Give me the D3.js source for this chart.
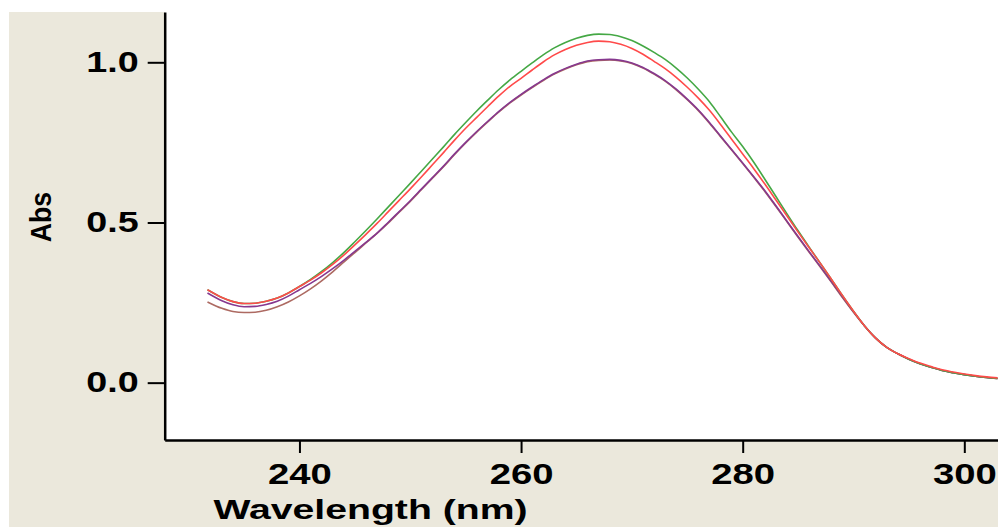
<!DOCTYPE html>
<html>
<head>
<meta charset="utf-8">
<script src="https://cdn.jsdelivr.net/npm/d3@7"></script>
<style>
  body { margin: 0; background: #fff; }
  svg { display: block; }
</style>
</head>
<body>
<div class="chart"></div>
<script>
var w = 998,
    h = 527;

// wavelength grid (nm)
var wavelength = [231.7, 233, 234, 235, 236, 237, 238, 239, 240, 241, 242, 243, 244, 245, 246, 247, 248, 249,
  250, 251, 252, 253, 254, 255, 256, 257, 258, 259, 260, 261, 262, 263, 264, 265, 266, 267, 268, 269,
  270, 271, 272, 273, 274, 275, 276, 277, 278, 279, 280, 281, 282, 283, 284, 285, 286, 287, 288, 289,
  290, 291, 292, 293, 294, 295, 296, 297, 298, 299, 300, 301, 302, 303];

var absGreen = [0.290, 0.266, 0.253, 0.247, 0.248, 0.254, 0.264, 0.280, 0.300, 0.322, 0.347, 0.375, 0.406, 0.440, 0.475, 0.511, 0.548, 0.585,
  0.622, 0.660, 0.698, 0.736, 0.775, 0.812, 0.848, 0.882, 0.915, 0.945, 0.972, 0.998, 1.023, 1.045, 1.062, 1.075, 1.084, 1.088, 1.087, 1.080,
  1.068, 1.051, 1.031, 1.009, 0.982, 0.951, 0.916, 0.877, 0.830, 0.782, 0.737, 0.688, 0.635, 0.581, 0.527, 0.474, 0.423, 0.373, 0.323, 0.272,
  0.223, 0.177, 0.139, 0.110, 0.090, 0.073, 0.059, 0.048, 0.038, 0.031, 0.025, 0.020, 0.016, 0.013];

var absRed = [0.290, 0.266, 0.253, 0.247, 0.248, 0.254, 0.264, 0.280, 0.300, 0.320, 0.343, 0.369, 0.398, 0.430, 0.463, 0.497, 0.533, 0.569,
  0.605, 0.642, 0.680, 0.718, 0.757, 0.794, 0.828, 0.862, 0.895, 0.925, 0.950, 0.976, 1.001, 1.023, 1.040, 1.053, 1.062, 1.066, 1.064, 1.056,
  1.043, 1.025, 1.003, 0.980, 0.953, 0.922, 0.888, 0.850, 0.806, 0.760, 0.714, 0.668, 0.620, 0.570, 0.520, 0.470, 0.421, 0.373, 0.323, 0.272,
  0.223, 0.177, 0.139, 0.110, 0.090, 0.075, 0.061, 0.050, 0.040, 0.033, 0.027, 0.022, 0.018, 0.015];

var absPurple = [0.280, 0.256, 0.243, 0.237, 0.238, 0.244, 0.254, 0.270, 0.290, 0.310, 0.332, 0.356, 0.382, 0.410, 0.438, 0.467, 0.500, 0.534,
  0.568, 0.604, 0.640, 0.676, 0.714, 0.750, 0.784, 0.816, 0.847, 0.875, 0.900, 0.923, 0.945, 0.965, 0.981, 0.994, 1.004, 1.008, 1.009, 1.006,
  0.998, 0.984, 0.965, 0.943, 0.916, 0.885, 0.851, 0.812, 0.770, 0.728, 0.686, 0.643, 0.599, 0.552, 0.504, 0.456, 0.409, 0.363, 0.316, 0.268,
  0.221, 0.177, 0.139, 0.110, 0.090, 0.073, 0.059, 0.048, 0.038, 0.031, 0.025, 0.020, 0.016, 0.013];

var absBrown = [0.252, 0.232, 0.222, 0.219, 0.220, 0.226, 0.237, 0.252, 0.271, 0.293, 0.318, 0.346, 0.376, 0.406, 0.436, 0.466, 0.498, 0.532,
  0.566, 0.602, 0.638, 0.674, 0.712, 0.748, 0.782, 0.814, 0.845, 0.873, 0.898, 0.921, 0.943, 0.963, 0.979, 0.992, 1.002, 1.006, 1.007, 1.004,
  0.996, 0.982, 0.963, 0.941, 0.914, 0.883, 0.849, 0.810, 0.768, 0.726, 0.684, 0.641, 0.597, 0.550, 0.502, 0.454, 0.407, 0.361, 0.314, 0.266,
  0.220, 0.177, 0.139, 0.110, 0.090, 0.073, 0.059, 0.048, 0.038, 0.031, 0.025, 0.020, 0.016, 0.013];

var xTicks = [240, 260, 280, 300];
var yTicks = [0.0, 0.5, 1.0];

var series = [
  {name: "brown", values: absBrown, color: "#ad6a62"},
  {name: "purple", values: absPurple, color: "#86388f"},
  {name: "green", values: absGreen, color: "#45a845"},
  {name: "red", values: absRed, color: "#ff4a4a"}
];

var plotLeft = 164.7, plotRight = 998, plotTop = 12, plotBottom = 440;

var svg = d3.select(".chart").append("svg")
  .attr("width", w)
  .attr("height", h);

// beige background, white plot area
svg.append("rect")
  .attr("x", 9).attr("y", 12)
  .attr("width", w - 9).attr("height", h - 12)
  .style("fill", "#ebe8dc");

svg.append("rect")
  .attr("x", plotLeft).attr("y", 0)
  .attr("width", plotRight - plotLeft).attr("height", plotBottom)
  .style("fill", "#ffffff");

var x = d3.scaleLinear()
  .domain([227.84, 303.04])
  .range([plotLeft, plotRight]);

var y = d3.scaleLinear()
  .domain([-0.179, 1.157])
  .range([plotBottom, plotTop]);

var line = d3.line()
  .x(function(d) { return x(d[0]); })
  .y(function(d) { return y(d[1]); })
  .curve(d3.curveMonotoneX);

svg.selectAll("path.spec")
  .data(series)
  .enter()
  .append("path")
  .attr("class", "spec")
  .attr("d", function(s) {
    return line(wavelength.map(function(wl, i) { return [wl, s.values[i]]; }));
  })
  .style("fill", "none")
  .style("stroke", function(s) { return s.color; })
  .style("stroke-width", 1.6);

var fontFam = "'Liberation Sans', Arial, sans-serif";

// y axis
var yAxis = svg.append("g")
  .attr("transform", "translate(" + plotLeft + ",0)")
  .call(d3.axisLeft(y).tickValues(yTicks).tickFormat(d3.format(".1f")).tickSize(17).tickSizeOuter(0));

yAxis.select(".domain").style("stroke", "#000").style("stroke-width", 2.5);
yAxis.selectAll(".tick line").style("stroke", "#000").style("stroke-width", 2);
yAxis.selectAll(".tick text")
  .attr("x", -26 / 1.3)
  .attr("transform", "scale(1.3,1)")
  .style("font-family", fontFam)
  .style("font-weight", "bold")
  .style("font-size", "29px")
  .style("fill", "#000");

// x axis
var xAxis = svg.append("g")
  .attr("transform", "translate(0," + plotBottom + ")")
  .call(d3.axisBottom(x).tickValues(xTicks).tickSize(13).tickPadding(10).tickSizeOuter(0));

xAxis.select(".domain").style("stroke", "#000").style("stroke-width", 2.3);
xAxis.selectAll(".tick line").style("stroke", "#000").style("stroke-width", 2);
xAxis.selectAll(".tick text")
  .attr("transform", "scale(1.32,1)")
  .style("font-family", fontFam)
  .style("font-weight", "bold")
  .style("font-size", "29px")
  .style("fill", "#000");

// axis titles
svg.append("text")
  .attr("transform", "translate(370.5,519) scale(1.4,1)")
  .attr("text-anchor", "middle")
  .style("font-family", fontFam)
  .style("font-weight", "bold")
  .style("font-size", "28px")
  .style("fill", "#000")
  .text("Wavelength (nm)");

svg.append("text")
  .attr("transform", "translate(51,217) rotate(-90) scale(0.92,1)")
  .attr("text-anchor", "middle")
  .style("font-family", fontFam)
  .style("font-weight", "bold")
  .style("font-size", "29px")
  .style("fill", "#000")
  .text("Abs");
</script>
</body>
</html>
